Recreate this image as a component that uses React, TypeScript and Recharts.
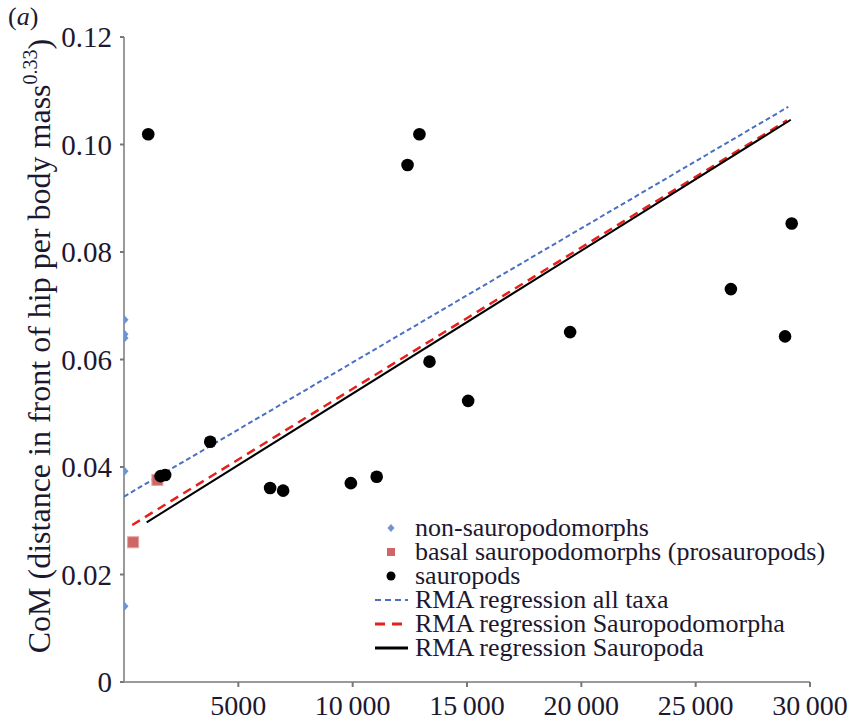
import React from 'react';
import {
  ScatterChart,
  Scatter,
  XAxis,
  YAxis,
  Legend,
} from 'recharts';

// values (x: unitless, y: CoM / body mass^0.33)
const nonSauropodomorphs = [
  { x: 0, y: 0.0674 },
  { x: 0, y: 0.0647 },
  { x: 0, y: 0.064 },
  { x: 0, y: 0.0392 },
  { x: 0, y: 0.0141 },
];

const basalSauropodomorphs = [
  { x: 400, y: 0.026 },
  { x: 1460, y: 0.0376 },
];

const sauropods = [
  { x: 1060, y: 0.1019 },
  { x: 1600, y: 0.0383 },
  { x: 1800, y: 0.0385 },
  { x: 3770, y: 0.0447 },
  { x: 6390, y: 0.0361 },
  { x: 6960, y: 0.0356 },
  { x: 9920, y: 0.037 },
  { x: 11050, y: 0.0382 },
  { x: 12400, y: 0.0962 },
  { x: 12920, y: 0.1019 },
  { x: 13360, y: 0.0596 },
  { x: 15050, y: 0.0523 },
  { x: 19510, y: 0.0651 },
  { x: 26540, y: 0.0731 },
  { x: 28910, y: 0.0643 },
  { x: 29200, y: 0.0853 },
];

// regression line end points
const rmaAllTaxa = [
  { x: 0, y: 0.0345 },
  { x: 29050, y: 0.107 },
];
const rmaSauropodomorpha = [
  { x: 360, y: 0.0292 },
  { x: 29000, y: 0.1045 },
];
const rmaSauropoda = [
  { x: 990, y: 0.0297 },
  { x: 29160, y: 0.1046 },
];

const xTicks = [5000, 10000, 15000, 20000, 25000, 30000];
const xTickLabels = ['5000', '10\u2009000', '15\u2009000', '20\u2009000', '25\u2009000', '30\u2009000'];
const yTicks = [0, 0.02, 0.04, 0.06, 0.08, 0.1, 0.12];
const yTickLabels = ['0', '0.02', '0.04', '0.06', '0.08', '0.10', '0.12'];

const legendItems = [
  { label: 'non-sauropodomorphs', kind: 'diamond' },
  { label: 'basal sauropodomorphs (prosauropods)', kind: 'square' },
  { label: 'sauropods', kind: 'circle' },
  { label: 'RMA regression all taxa', kind: 'blue' },
  { label: 'RMA regression Sauropodomorpha', kind: 'red' },
  { label: 'RMA regression Sauropoda', kind: 'black' },
];

const SERIF = '"Liberation Serif", "Times New Roman", serif';
const TEXT = '#1c1830';
const BLUE_PT = '#6f93cf';
const RED_PT = '#cd6664';
const BLUE_LINE = '#4a70c4';
const RED_LINE = '#e8201c';

const Diamond = ({ cx, cy }: any) => (
  <polygon
    points={`${cx},${cy - 5} ${cx + 4.5},${cy} ${cx},${cy + 5} ${cx - 4.5},${cy}`}
    fill={BLUE_PT}
  />
);
const Square = ({ cx, cy }: any) => (
  <rect x={cx - 5.5} y={cy - 5.5} width={11} height={11} fill={RED_PT} stroke="#e8a0a0" strokeWidth={1} />
);
const Dot = ({ cx, cy }: any) => <circle cx={cx} cy={cy} r={6.3} fill="#000" />;
const Nothing = () => <g />;

const LegendIcon = ({ kind }: { kind: string }) => (
  <svg width={46} height={24} style={{ flex: 'none' }}>
    {kind === 'diamond' && <polygon points="24,8 27.5,12 24,16 20.5,12" fill={BLUE_PT} />}
    {kind === 'square' && <rect x={20} y={8} width={8} height={8} fill={RED_PT} />}
    {kind === 'circle' && <circle cx={24} cy={12} r={4.5} fill="#000" />}
    {kind === 'blue' && <line x1={8} x2={41} y1={12} y2={12} stroke={BLUE_LINE} strokeWidth={2} strokeDasharray="6 4" />}
    {kind === 'red' && <line x1={8} x2={41} y1={12} y2={12} stroke={RED_LINE} strokeWidth={3} strokeDasharray="10 7" />}
    {kind === 'black' && <line x1={8} x2={41} y1={12} y2={12} stroke="#000" strokeWidth={3} />}
  </svg>
);

const LegendBox = () => (
  <div style={{ fontFamily: SERIF, fontSize: 26, color: TEXT }}>
    {legendItems.map((item) => (
      <div key={item.label} style={{ display: 'flex', alignItems: 'center', height: 24, whiteSpace: 'nowrap' }}>
        <LegendIcon kind={item.kind} />
        <span style={{ marginLeft: 2, display: 'inline-block', height: 24, lineHeight: '24px', overflow: 'visible' }}>
          {item.label}
        </span>
      </div>
    ))}
  </div>
);

const YTitle = () => (
  <text
    x={50}
    y={346}
    transform="rotate(-90, 50, 346)"
    textAnchor="middle"
    fontFamily={SERIF}
    fontSize={32}
    fill={TEXT}
  >
    CoM (distance in front of hip per body mass
    <tspan fontSize={20} dy={-13}>0.33</tspan>
    <tspan dy={13}>)</tspan>
  </text>
);

export default function App() {
  return (
    <div style={{ position: 'absolute', left: 0, top: 0, width: 850, height: 723, background: '#fff' }}>
      <div
        style={{
          position: 'absolute',
          left: 8,
          top: 2,
          fontFamily: SERIF,
          fontSize: 26,
          color: TEXT,
          zIndex: 2,
        }}
      >
        (<i>a</i>)
      </div>
      <ScatterChart width={850} height={723} margin={{ top: 37, right: 40, bottom: 0, left: 0 }}>
        <XAxis
          type="number"
          dataKey="x"
          domain={[0, 30000]}
          ticks={xTicks}
          tickFormatter={(v: number) => xTickLabels[xTicks.indexOf(v)]}
          height={41}
          tickSize={5}
          tickMargin={8}
          axisLine={{ stroke: '#9a9a9a', strokeWidth: 2 }}
          tickLine={{ stroke: '#777', strokeWidth: 2 }}
          tick={{ fill: TEXT, fontSize: 28, fontFamily: SERIF }}
          allowDataOverflow
        />
        <YAxis
          type="number"
          dataKey="y"
          domain={[0, 0.12]}
          ticks={yTicks}
          tickFormatter={(v: number) => yTickLabels[yTicks.indexOf(v)]}
          width={124}
          tickSize={4}
          tickMargin={8}
          axisLine={{ stroke: '#9a9a9a', strokeWidth: 2 }}
          tickLine={{ stroke: '#777', strokeWidth: 2 }}
          tick={{ fill: TEXT, fontSize: 29, fontFamily: SERIF }}
          label={<YTitle />}
        />
        <Scatter
          data={rmaAllTaxa}
          shape={Nothing}
          line={{ stroke: BLUE_LINE, strokeWidth: 2, strokeDasharray: '5 3' }}
          isAnimationActive={false}
        />
        <Scatter
          data={rmaSauropodomorpha}
          shape={Nothing}
          line={{ stroke: RED_LINE, strokeWidth: 2.5, strokeDasharray: '9 6' }}
          isAnimationActive={false}
        />
        <Scatter
          data={rmaSauropoda}
          shape={Nothing}
          line={{ stroke: '#000', strokeWidth: 2 }}
          isAnimationActive={false}
        />
        <Scatter data={nonSauropodomorphs} shape={Diamond} isAnimationActive={false} />
        <Scatter data={basalSauropodomorphs} shape={Square} isAnimationActive={false} />
        <Scatter data={sauropods} shape={Dot} isAnimationActive={false} />
        <Legend
          layout="vertical"
          align="center"
          verticalAlign="middle"
          content={<LegendBox />}
          wrapperStyle={{ left: 367, top: 516, width: 480, height: 150 }}
        />
      </ScatterChart>
    </div>
  );
}
